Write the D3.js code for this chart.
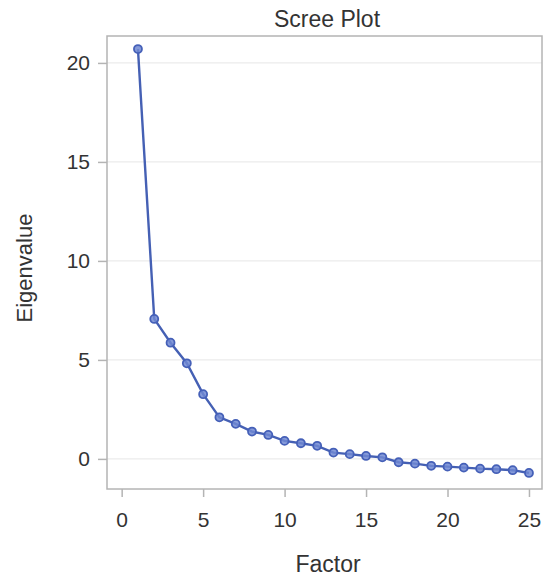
<!DOCTYPE html>
<html><head><meta charset="utf-8">
<script src="https://cdn.jsdelivr.net/npm/d3@7"></script>
<style>
html,body{margin:0;padding:0;background:#fff;}
text{font-family:"Liberation Sans",Arial,sans-serif;fill:#333;}
</style></head>
<body>
<svg id="chart" width="545" height="576"></svg>
<script>
const factors = [1,2,3,4,5,6,7,8,9,10,11,12,13,14,15,16,17,18,19,20,21,22,23,24,25];
const eigenvalues = [20.7,7.07,5.87,4.83,3.27,2.1,1.77,1.38,1.21,0.91,0.79,0.66,0.32,0.24,0.15,0.08,-0.17,-0.24,-0.35,-0.39,-0.44,-0.49,-0.52,-0.57,-0.71];
const xTicks = [0,5,10,15,20,25];
const yTicks = [0,5,10,15,20];

const svg = d3.select("#chart");
const L = 107, R = 542, T = 36, B = 489;
const x = d3.scaleLinear().domain([-0.9, 25.8]).range([L, R]);
const y = d3.scaleLinear().domain([-1.52, 21.36]).range([B, T]);

// grid
svg.append("g").selectAll("line").data(yTicks).join("line")
  .attr("x1", L).attr("x2", R)
  .attr("y1", d => y(d)).attr("y2", d => y(d))
  .attr("stroke", "#ebebeb").attr("stroke-width", 1.2);

// frame
svg.append("rect").attr("x", L).attr("y", T).attr("width", R - L).attr("height", B - T)
  .attr("fill", "none").attr("stroke", "#b4b4b4").attr("stroke-width", 1.5);

// axes
const xAxis = svg.append("g").attr("transform", `translate(0,${B})`)
  .call(d3.axisBottom(x).tickValues(xTicks).tickSize(8).tickPadding(15).tickFormat(d3.format("d")));
const yAxis = svg.append("g").attr("transform", `translate(${L},0)`)
  .call(d3.axisLeft(y).tickValues(yTicks).tickSize(9).tickPadding(8).tickFormat(d3.format("d")));
[xAxis, yAxis].forEach(a => {
  a.select(".domain").remove();
  a.selectAll(".tick line").attr("stroke", "#b4b4b4").attr("stroke-width", 1.5);
  a.selectAll(".tick text").attr("font-size", 21).attr("fill", "#333")
    .attr("font-family", '"Liberation Sans",Arial,sans-serif');
});

// line
svg.append("path").datum(factors.map((f, i) => [f, eigenvalues[i]]))
  .attr("d", d3.line().x(d => x(d[0])).y(d => y(d[1])))
  .attr("fill", "none").attr("stroke", "#4560b4").attr("stroke-width", 2.4);

// markers
svg.append("g").selectAll("circle").data(factors.map((f, i) => [f, eigenvalues[i]])).join("circle")
  .attr("cx", d => x(d[0])).attr("cy", d => y(d[1])).attr("r", 4)
  .attr("fill", "#7088d2").attr("fill-opacity", 0.85)
  .attr("stroke", "#4560b8").attr("stroke-width", 1.8);

// titles
svg.append("text").attr("x", 327).attr("y", 27).attr("text-anchor", "middle")
  .attr("font-size", 23).text("Scree Plot");
svg.append("text").attr("x", 328).attr("y", 572).attr("text-anchor", "middle")
  .attr("font-size", 23).text("Factor");
svg.append("text").attr("transform", `translate(32,268) rotate(-90)`)
  .attr("text-anchor", "middle").attr("font-size", 22).text("Eigenvalue");
</script>
</body></html>
